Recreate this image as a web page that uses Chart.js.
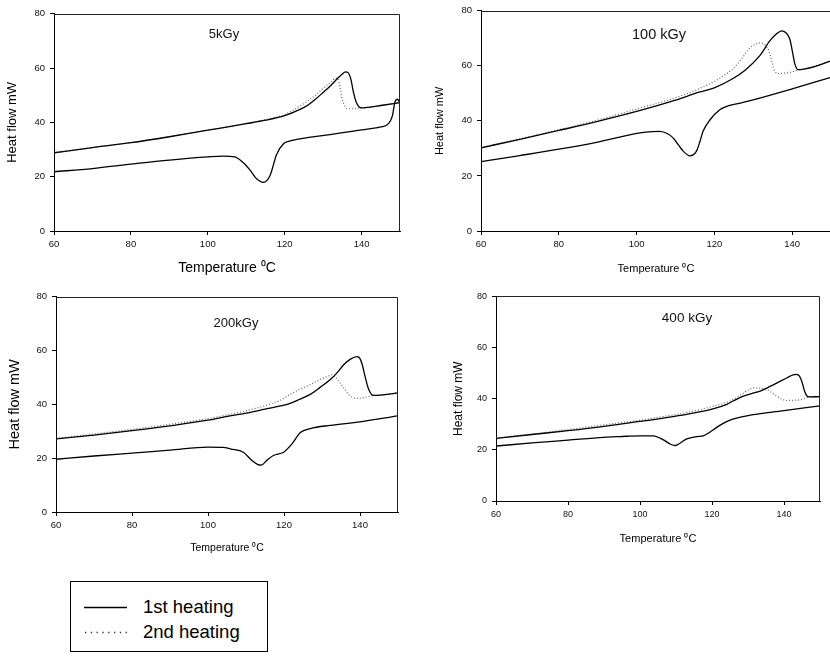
<!DOCTYPE html>
<html>
<head>
<meta charset="utf-8">
<script src="https://cdn.jsdelivr.net/npm/chart.js@4/dist/chart.umd.min.js"></script>
<style>
html,body{margin:0;padding:0;background:#fff;}
body{width:830px;height:663px;overflow:hidden;position:relative;font-family:"Liberation Sans",Arial,sans-serif;}
canvas{position:absolute;}
.lbl{position:absolute;color:#111;white-space:nowrap;transform:translate(-50%,-50%);}
#legend{position:absolute;left:70px;top:581px;width:198px;height:71px;border:1px solid #000;box-sizing:border-box;}
#legend .row{position:absolute;left:0;height:24px;width:196px;}
#legend svg{position:absolute;left:13px;top:0;}
#legend span{position:absolute;left:72px;top:0;line-height:24px;font-size:18.5px;color:#000;}
</style>
</head>
<body>
<script>
// ---- shared ticks ----
const xTicks = [60, 80, 100, 120, 140];
const yTicks = [0, 20, 40, 60, 80];
const panelLabels = ['5kGy', '100 kGy', '200kGy', '400 kGy'];
const xTitle = 'Temperature \u2070C';
const yTitle = 'Heat flow mW';

// ---- 5 kGy ----
const T5_h1 = [60,70,80,90,100,106,110,115,120,124,126,128,130,132,134,135,135.8,136.5,137.2,137.9,138.6,139.3,140,141,145,150];
const Q5_h1 = [28.8,30.7,32.5,34.7,37.1,38.5,39.5,40.8,42.5,44.8,46.3,48.5,51,53.6,56.5,57.8,58.6,58.3,56,51,47.5,45.8,45.3,45.4,46.2,47.3];
const T5_c  = [60,70,80,90,100,104,107,109.2,111,112.7,114.5,116.2,117.9,119.7,121,123.1,126,131.8,137,142,145,147,148,148.7,149.3,150];
const Q5_c  = [21.8,23,24.6,26.1,27.3,27.6,27.3,25.2,22.4,19.2,17.9,20.4,28.2,32.1,33,33.7,34.4,35.5,36.6,37.6,38.3,39.5,42.3,47.6,48.5,47.2];
const T5_h2 = [60,70,80,90,100,110,115,120,124,126,128,130,132,133.5,134.2,134.8,135.5,136.1,137,138,139,140,141,145,150];
const Q5_h2 = [28.8,30.7,32.5,34.7,37.1,39.6,41,42.9,46,47.9,50,52.5,54.8,56.4,54.5,49.5,46.5,45.2,45,45,45.2,45.3,45.4,46.2,47.3];

// ---- 100 kGy ----
const T100_h1 = [60,70,80,90,100,110,116,120,124.8,128,131.7,134.3,136,137.3,138.4,139.4,140.1,140.7,141.5,143,146,150];
const Q100_h1 = [30.2,33.3,36.5,39.8,43.4,47.5,50.4,52,55.4,58.5,63.7,69.1,71.6,72.7,72,69.7,65,60.7,58.6,58.8,59.8,61.8];
const T100_c  = [60,70,80,90,100.9,104,106,108,109.4,111,112,113.7,115.4,116.3,117.1,118.9,121.4,123,126.6,130,140,150];
const Q100_c  = [25.2,27.4,29.7,32.3,35.6,36.1,36.2,35.3,33.8,30.8,29,27.3,29,32.5,36.2,40.4,44,45.2,46.4,47.6,51.6,55.8];
const T100_h2 = [60,70,80,90,100,110,116,120,122.5,125,127,129,130.5,132.1,133.2,134,134.8,135.5,136.8,138,140,141.5,143,146,150];
const Q100_h2 = [30.3,33.5,36.8,40.3,44.3,48.4,51.6,54.3,56.5,59.2,62.5,66.3,67.8,68.3,67.3,65.5,61.5,58,57.2,57.3,57.8,58.5,58.8,59.8,61.8];

// ---- 200 kGy ----
const T200_h1 = [60,70,80,90,100,105.8,110,115,119,121.6,124,126.9,129.5,132.2,134,135.7,137.5,139.2,140,140.6,141.4,142.3,143.6,146,150];
const Q200_h1 = [27.2,28.6,30.2,32,34.1,35.7,36.7,38.2,39.4,40.4,41.8,43.7,46.3,49.2,51.8,54.7,56.8,57.7,57,54.7,50,45.5,43.3,43.5,44.3];
const T200_c  = [60,70,80,90,100,104,106,109.3,111.5,113,114,115.5,117.2,119.9,122.1,124.3,126.9,132.2,140,150];
const Q200_c  = [19.6,20.8,21.9,23,24.1,24,23.4,22.2,19.2,17.7,17.4,19.2,21,22.2,25.3,29.5,31,32.2,33.5,35.7];
const T200_h2 = [60,70,80,90,100,105.8,110,115,119,121.6,124,126.9,129.5,131.5,132.6,133.6,134.8,136,137,138,139.2,141,143.6,146,150];
const Q200_h2 = [27.3,29,30.7,32.6,34.7,36.3,37.6,39.5,41.5,43.7,45.5,47.3,49.2,50.4,51,50,47.9,45.6,43.7,42.6,42.2,42.5,43.3,43.5,44.3];

// ---- 400 kGy ----
const T400_h1 = [60,70,80,90,94.5,100,110,113,120,124.1,126,128.7,131,133.4,136,138.9,141,142.5,143.5,144.3,145,145.7,146.3,147,150];
const Q400_h1 = [24.5,26,27.5,29.2,30.1,31.1,33.2,33.9,35.9,37.8,39.2,41,42,43,44.7,46.8,48.3,49.3,49.5,48.8,46.5,43,41.2,40.7,40.8];
const T400_c  = [60,70,80,90,94.5,100,103.7,106.5,108.5,109.8,111.3,113,115.8,117.6,119.5,121.3,125,129.7,140,150];
const Q400_c  = [21.5,22.7,23.8,24.9,25.2,25.5,25.5,23.9,22.2,21.7,22.8,24.3,25.2,25.5,27,28.8,31.6,33.3,35.3,37.2];
const T400_h2 = [60,70,80,90,100,105,113,120,125,128,130,131.5,133.5,135.2,136.5,138,139.5,140.8,143,145,146.5,150];
const Q400_h2 = [24.6,26.2,27.9,29.8,31.6,32.7,34.6,36.9,39.1,41.5,43.3,44.2,44.1,43.6,42.5,41,39.8,39.3,39.4,39.7,40.5,40.8];

const FONT = '"Liberation Sans", Arial, sans-serif';

// layout of the four panels (plot-area rectangles in page pixels)
const panels = [
  {L:54,  T:11,  R:400, B:231, yW:54, padT:8, padR:6, xH:50, tick:9.5, yts:13,   ytp:4.7, xts:14,   xtp:4.6,
   h1:[T5_h1,Q5_h1], c:[T5_c,Q5_c], h2:[T5_h2,Q5_h2], lbl:[224,33,13]},
  {L:481, T:8,   R:831, B:231, yW:56, padT:8, padR:4, xH:50, tick:9.5, yts:11,   ytp:8.4, xts:11,   xtp:5.9,
   h1:[T100_h1,Q100_h1], c:[T100_c,Q100_c], h2:[T100_h2,Q100_h2], lbl:[659,34,14.5]},
  {L:56,  T:294, R:398, B:512, yW:56, padT:8, padR:6, xH:50, tick:9.5, yts:14.5, ytp:6.3, xts:10.5, xtp:7.7,
   h1:[T200_h1,Q200_h1], c:[T200_c,Q200_c], h2:[T200_h2,Q200_h2], lbl:[236,322,13]},
  {L:496, T:294, R:820, B:501, yW:56, padT:8, padR:6, xH:50, tick:9,   yts:12,   ytp:11.3, xts:11,  xtp:5.4,
   h1:[T400_h1,Q400_h1], c:[T400_c,Q400_c], h2:[T400_h2,Q400_h2], lbl:[687,317,13.5]}
];

const zip = (xs, ys) => xs.map((x, i) => ({x: x, y: ys[i]}));

const framePlugin = {
  id: 'frame',
  afterDatasetsDraw(chart) {
    const {ctx, chartArea: a} = chart;
    ctx.save();
    ctx.strokeStyle = '#222';
    ctx.lineWidth = 1;
    ctx.beginPath();
    const t = Math.round(a.top) + 0.5, r = Math.round(a.right) - 0.5;
    ctx.moveTo(a.left, t);
    ctx.lineTo(r, t);
    ctx.lineTo(r, a.bottom);
    ctx.stroke();
    ctx.restore();
  }
};

panels.forEach((p, idx) => {
  const cv = document.createElement('canvas');
  const left = p.L - p.yW, top = p.T - p.padT;
  const w = (p.R - p.L) + p.yW + p.padR, h = (p.B - p.T) + p.padT + p.xH;
  cv.width = w; cv.height = h;
  cv.style.left = left + 'px'; cv.style.top = top + 'px';
  cv.style.width = w + 'px'; cv.style.height = h + 'px';
  document.body.appendChild(cv);

  const solid = {showLine: true, borderColor: '#000', borderWidth: 1.3, pointRadius: 0, cubicInterpolationMode: 'monotone', fill: false};
  const dotted = {showLine: true, borderColor: '#666', borderWidth: 1.2, borderDash: [1, 2], pointRadius: 0, cubicInterpolationMode: 'monotone', fill: false};

  new Chart(cv, {
    type: 'scatter',
    data: {
      datasets: [
        Object.assign({label: '1st heating', data: zip(p.h1[0], p.h1[1])}, solid),
        Object.assign({label: '1st heating (cooling)', data: zip(p.c[0], p.c[1])}, solid),
        Object.assign({label: '2nd heating', data: zip(p.h2[0], p.h2[1])}, dotted)
      ]
    },
    options: {
      responsive: false,
      animation: false,
      devicePixelRatio: 1,
      layout: {padding: {top: p.padT, right: p.padR, left: 0, bottom: 0}},
      plugins: {legend: {display: false}, tooltip: {enabled: false}},
      scales: {
        x: {
          type: 'linear', min: 60, max: 150,
          afterBuildTicks: s => { s.ticks = xTicks.map(v => ({value: v})); },
          afterFit: s => { s.height = p.xH; },
          grid: {drawOnChartArea: false, drawTicks: true, tickLength: 4, color: '#000'},
          border: {display: true, color: '#000', width: 1},
          ticks: {padding: 4, color: '#111', autoSkip: false, maxRotation: 0, font: {size: p.tick, family: FONT}},
          title: {display: true, text: xTitle, color: '#000', font: {size: p.xts, family: FONT}, padding: {top: 0, bottom: p.xtp}}
        },
        y: {
          type: 'linear', min: 0, max: 80,
          afterBuildTicks: s => { s.ticks = yTicks.map(v => ({value: v})); },
          afterFit: s => { s.width = p.yW; },
          grid: {drawOnChartArea: false, drawTicks: true, tickLength: 4, color: '#000'},
          border: {display: true, color: '#000', width: 1},
          ticks: {padding: 5, color: '#111', autoSkip: false, font: {size: p.tick, family: FONT}},
          title: {display: true, text: yTitle, color: '#000', font: {size: p.yts, family: FONT}, padding: {top: p.ytp, bottom: 0}}
        }
      }
    },
    plugins: [framePlugin]
  });

  const d = document.createElement('div');
  d.className = 'lbl';
  d.textContent = panelLabels[idx];
  d.style.left = p.lbl[0] + 'px';
  d.style.top = p.lbl[1] + 'px';
  d.style.fontSize = p.lbl[2] + 'px';
  document.body.appendChild(d);
});

// legend
const lg = document.createElement('div');
lg.id = 'legend';
lg.innerHTML =
  '<div class="row" style="top:13px"><svg width="44" height="24"><line x1="0" y1="12.5" x2="43" y2="12.5" stroke="#000" stroke-width="1.5"/></svg><span>1st heating</span></div>' +
  '<div class="row" style="top:38px"><svg width="44" height="24"><line x1="1" y1="12.5" x2="43" y2="12.5" stroke="#333" stroke-width="1.3" stroke-dasharray="1.3 4.5"/></svg><span>2nd heating</span></div>';
document.body.appendChild(lg);
</script>
</body>
</html>
